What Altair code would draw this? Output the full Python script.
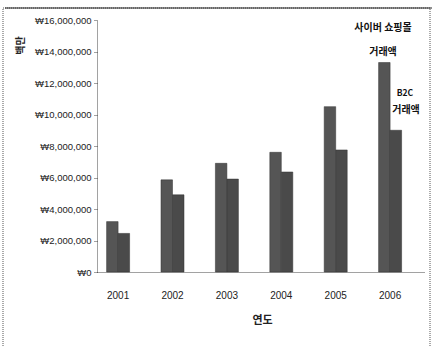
import altair as alt
import pandas as pd

years = ["2001", "2002", "2003", "2004", "2005", "2006"]
cyber = [3200000, 5850000, 6900000, 7600000, 10500000, 13300000]
b2c = [2450000, 4900000, 5900000, 6350000, 7750000, 9000000]
series = ["사이버 쇼핑몰 거래액", "B2C 거래액"]
y_ticks = [0, 2000000, 4000000, 6000000, 8000000, 10000000, 12000000, 14000000, 16000000]

rows = []
for i, yr in enumerate(years):
    rows.append({"year": yr, "series": series[0], "value": cyber[i]})
    rows.append({"year": yr, "series": series[1], "value": b2c[i]})
df = pd.DataFrame(rows)

KFONT = "Noto Sans CJK KR"

bars = alt.Chart(df).mark_bar(stroke="#333333", strokeWidth=0.5).encode(
    x=alt.X("year:N", sort=years,
            scale=alt.Scale(paddingInner=0.577, paddingOuter=0.294, align=0.3),
            axis=alt.Axis(title="연도", labelAngle=0, ticks=False, labelPadding=18,
                          labelFont="Liberation Sans", labelFontSize=10, labelColor="#222",
                          domainDash=[1, 1], domainColor="#444",
                          titleFont=KFONT, titleFontSize=11, titleFontWeight="bold",
                          titlePadding=14, titleColor="#222", titleX=165)),
    xOffset=alt.XOffset("series:N", sort=series),
    y=alt.Y("value:Q", scale=alt.Scale(domain=[0, 16000000]),
            axis=alt.Axis(values=y_ticks, grid=False,
                          labelExpr="'₩' + format(datum.value, ',')",
                          labelFont="Liberation Sans", labelFontSize=9.5,
                          labelColor="#222", domainDash=[1, 1], domainColor="#444",
                          tickDash=[1, 1], tickSize=4, tickColor="#444",
                          title="백만", titleFont=KFONT, titleFontSize=10,
                          titleFontWeight="bold", titleAngle=-90, titleX=-77, titleY=25,
                          titleAlign="center", titleBaseline="middle", titleColor="#222")),
    color=alt.Color("series:N", sort=series,
                    scale=alt.Scale(domain=series, range=["#555555", "#4a4a4a"]),
                    legend=None),
)

ann_text = ["사이버 쇼핑몰", "거래액", "B2C", "거래액"]
ann_df = pd.DataFrame({"t": ann_text, "px": [286, 286, 308, 309], "py": [8, 32, 73, 90],
                       "fs": [10, 10, 8.5, 10]})
ann = alt.Chart(ann_df).mark_text(font=KFONT, fontWeight="bold", color="#111", align="center",
                                  baseline="middle").encode(
    x=alt.X("px:Q", scale=None), y=alt.Y("py:Q", scale=None), text="t:N",
    size=alt.Size("fs:Q", scale=None, legend=None))

border = alt.Chart(pd.DataFrame({"a": [0]})).mark_rect(
    fill=None, stroke="#555", strokeDash=[1, 1], strokeWidth=1).encode(
    x=alt.value(-94), x2=alt.value(333), y=alt.value(-12), y2=alt.value(335))
topline = alt.Chart(pd.DataFrame({"a": [0]})).mark_rule(color="#222", strokeWidth=1.2).encode(
    x=alt.value(-92), x2=alt.value(340), y=alt.value(-12))

chart = alt.layer(border, topline, bars, ann).properties(
    width=327, height=252,
    autosize=alt.AutoSizeParams(type="none"),
    padding={"left": 97, "top": 20, "right": 8, "bottom": 75},
    background="white",
).configure_view(stroke=None)

chart.save("out.html", embed_options={"renderer": "svg", "actions": False})
